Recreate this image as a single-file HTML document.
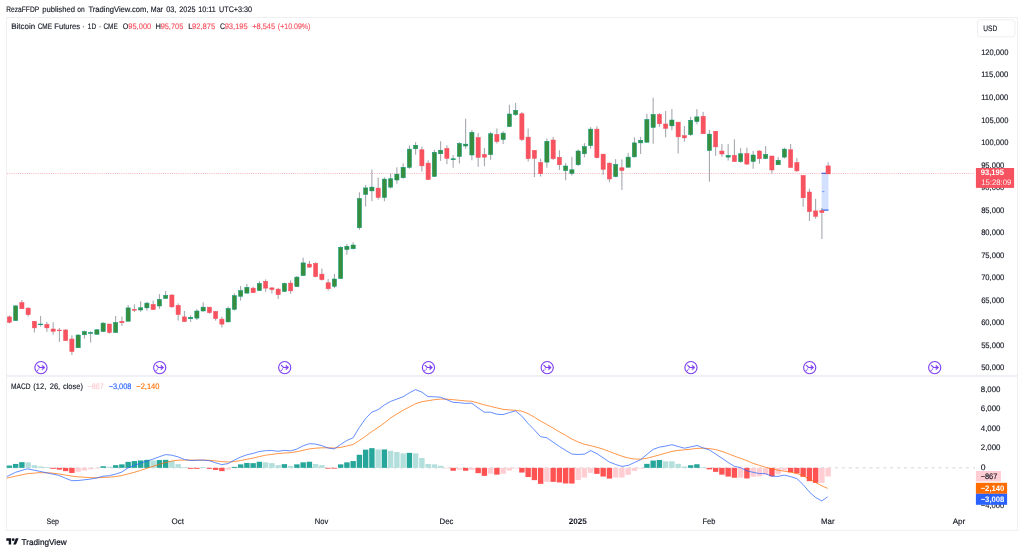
<!DOCTYPE html>
<html lang="en"><head><meta charset="utf-8"><title>Bitcoin CME Futures chart</title>
<style>
html,body{margin:0;padding:0;background:#fff;}
body{width:1024px;height:553px;overflow:hidden;position:relative;font-family:"Liberation Sans", Arial, sans-serif;}
svg{position:absolute;left:0;top:0;display:block}
text{font-family:"Liberation Sans", Arial, sans-serif;text-rendering:geometricPrecision}
</style></head><body>
<svg width="1024" height="553" viewBox="0 0 1024 553">
<rect x="0" y="0" width="1024" height="553" fill="#ffffff"/>

<rect x="6.5" y="17.5" width="1011" height="512.8" fill="none" stroke="#efeff2" stroke-width="1"/>
<rect x="7" y="374.9" width="1010" height="2" fill="#eef0f5"/>
<rect x="977.5" y="19.8" width="37.4" height="17" rx="2.5" fill="#fff" stroke="#eeeef2" stroke-width="1"/>
<rect x="821.6" y="173.1" width="6.9" height="37.1" fill="#2962ff" fill-opacity="0.2"/>
<line x1="821.6" y1="173.3" x2="828.5" y2="173.3" stroke="#2962ff" stroke-width="1.2"/>
<line x1="821.6" y1="210.1" x2="828.5" y2="210.1" stroke="#2962ff" stroke-width="1.2"/>
<line x1="822" y1="191.6" x2="824.4" y2="191.6" stroke="#2962ff" stroke-width="0.7" stroke-opacity="0.8"/>
<line x1="7" y1="173.5" x2="975" y2="173.5" stroke="#f7525f" stroke-width="0.8" stroke-dasharray="0.9 1.3" stroke-opacity="0.6"/>
<g id="candles">
<line x1="9.40" y1="315.38" x2="9.40" y2="323.50" stroke="#787b86" stroke-width="0.9" stroke-opacity="0.8"/>
<rect x="7.30" y="316.88" width="4.2" height="5.38" fill="#f7525f" stroke="#f7525f" stroke-width="0.5"/>
<line x1="15.65" y1="305.25" x2="15.65" y2="320.62" stroke="#787b86" stroke-width="0.9" stroke-opacity="0.8"/>
<rect x="13.55" y="305.88" width="4.2" height="14.75" fill="#388e3c" stroke="#089981" stroke-width="0.5"/>
<line x1="21.90" y1="300.00" x2="21.90" y2="308.75" stroke="#787b86" stroke-width="0.9" stroke-opacity="0.8"/>
<rect x="19.80" y="302.50" width="4.2" height="6.25" fill="#f7525f" stroke="#f7525f" stroke-width="0.5"/>
<line x1="28.15" y1="307.25" x2="28.15" y2="316.50" stroke="#787b86" stroke-width="0.9" stroke-opacity="0.8"/>
<rect x="26.05" y="308.12" width="4.2" height="6.62" fill="#f7525f" stroke="#f7525f" stroke-width="0.5"/>
<line x1="34.40" y1="321.25" x2="34.40" y2="332.50" stroke="#787b86" stroke-width="0.9" stroke-opacity="0.8"/>
<rect x="32.30" y="321.25" width="4.2" height="6.62" fill="#f7525f" stroke="#f7525f" stroke-width="0.5"/>
<line x1="40.65" y1="316.00" x2="40.65" y2="326.62" stroke="#787b86" stroke-width="0.9" stroke-opacity="0.8"/>
<rect x="38.55" y="324.00" width="4.2" height="0.75" fill="#388e3c" stroke="#089981" stroke-width="0.5"/>
<line x1="46.90" y1="321.88" x2="46.90" y2="331.88" stroke="#787b86" stroke-width="0.9" stroke-opacity="0.8"/>
<rect x="44.80" y="324.38" width="4.2" height="3.50" fill="#f7525f" stroke="#f7525f" stroke-width="0.5"/>
<line x1="53.15" y1="322.25" x2="53.15" y2="334.75" stroke="#787b86" stroke-width="0.9" stroke-opacity="0.8"/>
<rect x="51.05" y="329.00" width="4.2" height="2.25" fill="#f7525f" stroke="#f7525f" stroke-width="0.5"/>
<line x1="59.40" y1="328.12" x2="59.40" y2="341.88" stroke="#787b86" stroke-width="0.9" stroke-opacity="0.8"/>
<rect x="57.30" y="330.00" width="4.2" height="0.75" fill="#f7525f" stroke="#f7525f" stroke-width="0.5"/>
<line x1="65.65" y1="329.00" x2="65.65" y2="340.62" stroke="#787b86" stroke-width="0.9" stroke-opacity="0.8"/>
<rect x="63.55" y="330.00" width="4.2" height="10.62" fill="#f7525f" stroke="#f7525f" stroke-width="0.5"/>
<line x1="71.90" y1="335.25" x2="71.90" y2="355.00" stroke="#787b86" stroke-width="0.9" stroke-opacity="0.8"/>
<rect x="69.80" y="339.00" width="4.2" height="12.62" fill="#f7525f" stroke="#f7525f" stroke-width="0.5"/>
<line x1="78.15" y1="334.38" x2="78.15" y2="347.75" stroke="#787b86" stroke-width="0.9" stroke-opacity="0.8"/>
<rect x="76.05" y="335.00" width="4.2" height="12.75" fill="#388e3c" stroke="#089981" stroke-width="0.5"/>
<line x1="84.40" y1="330.62" x2="84.40" y2="338.50" stroke="#787b86" stroke-width="0.9" stroke-opacity="0.8"/>
<rect x="82.30" y="331.50" width="4.2" height="3.25" fill="#388e3c" stroke="#089981" stroke-width="0.5"/>
<line x1="90.65" y1="331.25" x2="90.65" y2="342.50" stroke="#787b86" stroke-width="0.9" stroke-opacity="0.8"/>
<rect x="88.55" y="332.50" width="4.2" height="1.00" fill="#388e3c" stroke="#089981" stroke-width="0.5"/>
<line x1="96.90" y1="329.00" x2="96.90" y2="334.38" stroke="#787b86" stroke-width="0.9" stroke-opacity="0.8"/>
<rect x="94.80" y="329.75" width="4.2" height="4.62" fill="#388e3c" stroke="#089981" stroke-width="0.5"/>
<line x1="103.15" y1="322.12" x2="103.15" y2="331.62" stroke="#787b86" stroke-width="0.9" stroke-opacity="0.8"/>
<rect x="101.05" y="323.12" width="4.2" height="8.50" fill="#388e3c" stroke="#089981" stroke-width="0.5"/>
<line x1="109.40" y1="324.00" x2="109.40" y2="333.75" stroke="#787b86" stroke-width="0.9" stroke-opacity="0.8"/>
<rect x="107.30" y="324.00" width="4.2" height="8.50" fill="#f7525f" stroke="#f7525f" stroke-width="0.5"/>
<line x1="115.65" y1="316.00" x2="115.65" y2="332.50" stroke="#787b86" stroke-width="0.9" stroke-opacity="0.8"/>
<rect x="113.55" y="322.50" width="4.2" height="10.00" fill="#388e3c" stroke="#089981" stroke-width="0.5"/>
<line x1="121.90" y1="316.62" x2="121.90" y2="326.00" stroke="#787b86" stroke-width="0.9" stroke-opacity="0.8"/>
<rect x="119.80" y="321.25" width="4.2" height="1.50" fill="#f7525f" stroke="#f7525f" stroke-width="0.5"/>
<line x1="128.15" y1="305.00" x2="128.15" y2="321.25" stroke="#787b86" stroke-width="0.9" stroke-opacity="0.8"/>
<rect x="126.05" y="307.88" width="4.2" height="13.38" fill="#388e3c" stroke="#089981" stroke-width="0.5"/>
<line x1="134.40" y1="304.38" x2="134.40" y2="311.88" stroke="#787b86" stroke-width="0.9" stroke-opacity="0.8"/>
<rect x="132.30" y="309.25" width="4.2" height="1.00" fill="#f7525f" stroke="#f7525f" stroke-width="0.5"/>
<line x1="140.65" y1="301.25" x2="140.65" y2="311.88" stroke="#787b86" stroke-width="0.9" stroke-opacity="0.8"/>
<rect x="138.55" y="307.75" width="4.2" height="2.25" fill="#388e3c" stroke="#089981" stroke-width="0.5"/>
<line x1="146.90" y1="301.88" x2="146.90" y2="310.62" stroke="#787b86" stroke-width="0.9" stroke-opacity="0.8"/>
<rect x="144.80" y="303.12" width="4.2" height="4.75" fill="#388e3c" stroke="#089981" stroke-width="0.5"/>
<line x1="153.15" y1="300.62" x2="153.15" y2="309.62" stroke="#787b86" stroke-width="0.9" stroke-opacity="0.8"/>
<rect x="151.05" y="304.38" width="4.2" height="5.25" fill="#f7525f" stroke="#f7525f" stroke-width="0.5"/>
<line x1="159.40" y1="294.12" x2="159.40" y2="308.75" stroke="#787b86" stroke-width="0.9" stroke-opacity="0.8"/>
<rect x="157.30" y="299.38" width="4.2" height="6.62" fill="#388e3c" stroke="#089981" stroke-width="0.5"/>
<line x1="165.65" y1="291.00" x2="165.65" y2="298.50" stroke="#787b86" stroke-width="0.9" stroke-opacity="0.8"/>
<rect x="163.55" y="295.38" width="4.2" height="3.12" fill="#388e3c" stroke="#089981" stroke-width="0.5"/>
<line x1="171.90" y1="294.38" x2="171.90" y2="307.88" stroke="#787b86" stroke-width="0.9" stroke-opacity="0.8"/>
<rect x="169.80" y="295.00" width="4.2" height="11.88" fill="#f7525f" stroke="#f7525f" stroke-width="0.5"/>
<line x1="178.15" y1="303.38" x2="178.15" y2="320.62" stroke="#787b86" stroke-width="0.9" stroke-opacity="0.8"/>
<rect x="176.05" y="305.25" width="4.2" height="9.38" fill="#f7525f" stroke="#f7525f" stroke-width="0.5"/>
<line x1="184.40" y1="311.00" x2="184.40" y2="321.62" stroke="#787b86" stroke-width="0.9" stroke-opacity="0.8"/>
<rect x="182.30" y="316.88" width="4.2" height="4.75" fill="#f7525f" stroke="#f7525f" stroke-width="0.5"/>
<line x1="190.65" y1="315.25" x2="190.65" y2="321.88" stroke="#787b86" stroke-width="0.9" stroke-opacity="0.8"/>
<rect x="188.55" y="317.25" width="4.2" height="1.50" fill="#388e3c" stroke="#089981" stroke-width="0.5"/>
<line x1="196.90" y1="309.12" x2="196.90" y2="320.00" stroke="#787b86" stroke-width="0.9" stroke-opacity="0.8"/>
<rect x="194.80" y="311.00" width="4.2" height="7.12" fill="#388e3c" stroke="#089981" stroke-width="0.5"/>
<line x1="203.15" y1="302.25" x2="203.15" y2="311.50" stroke="#787b86" stroke-width="0.9" stroke-opacity="0.8"/>
<rect x="201.05" y="307.12" width="4.2" height="3.88" fill="#388e3c" stroke="#089981" stroke-width="0.5"/>
<line x1="209.40" y1="307.12" x2="209.40" y2="313.75" stroke="#787b86" stroke-width="0.9" stroke-opacity="0.8"/>
<rect x="207.30" y="307.12" width="4.2" height="5.62" fill="#f7525f" stroke="#f7525f" stroke-width="0.5"/>
<line x1="215.65" y1="311.00" x2="215.65" y2="320.62" stroke="#787b86" stroke-width="0.9" stroke-opacity="0.8"/>
<rect x="213.55" y="311.50" width="4.2" height="7.00" fill="#f7525f" stroke="#f7525f" stroke-width="0.5"/>
<line x1="221.90" y1="316.88" x2="221.90" y2="327.50" stroke="#787b86" stroke-width="0.9" stroke-opacity="0.8"/>
<rect x="219.80" y="319.12" width="4.2" height="5.00" fill="#f7525f" stroke="#f7525f" stroke-width="0.5"/>
<line x1="228.15" y1="306.50" x2="228.15" y2="322.50" stroke="#787b86" stroke-width="0.9" stroke-opacity="0.8"/>
<rect x="226.05" y="308.38" width="4.2" height="13.50" fill="#388e3c" stroke="#089981" stroke-width="0.5"/>
<line x1="234.40" y1="293.38" x2="234.40" y2="310.38" stroke="#787b86" stroke-width="0.9" stroke-opacity="0.8"/>
<rect x="232.30" y="295.62" width="4.2" height="13.75" fill="#388e3c" stroke="#089981" stroke-width="0.5"/>
<line x1="240.65" y1="286.00" x2="240.65" y2="300.62" stroke="#787b86" stroke-width="0.9" stroke-opacity="0.8"/>
<rect x="238.55" y="290.62" width="4.2" height="5.62" fill="#388e3c" stroke="#089981" stroke-width="0.5"/>
<line x1="246.90" y1="284.00" x2="246.90" y2="293.50" stroke="#787b86" stroke-width="0.9" stroke-opacity="0.8"/>
<rect x="244.80" y="287.25" width="4.2" height="5.88" fill="#388e3c" stroke="#089981" stroke-width="0.5"/>
<line x1="253.15" y1="286.62" x2="253.15" y2="292.75" stroke="#787b86" stroke-width="0.9" stroke-opacity="0.8"/>
<rect x="251.05" y="288.12" width="4.2" height="4.62" fill="#f7525f" stroke="#f7525f" stroke-width="0.5"/>
<line x1="259.40" y1="281.25" x2="259.40" y2="290.62" stroke="#787b86" stroke-width="0.9" stroke-opacity="0.8"/>
<rect x="257.30" y="283.38" width="4.2" height="7.25" fill="#388e3c" stroke="#089981" stroke-width="0.5"/>
<line x1="265.65" y1="279.38" x2="265.65" y2="291.88" stroke="#787b86" stroke-width="0.9" stroke-opacity="0.8"/>
<rect x="263.55" y="281.25" width="4.2" height="6.88" fill="#f7525f" stroke="#f7525f" stroke-width="0.5"/>
<line x1="271.90" y1="287.25" x2="271.90" y2="293.38" stroke="#787b86" stroke-width="0.9" stroke-opacity="0.8"/>
<rect x="269.80" y="287.88" width="4.2" height="1.75" fill="#f7525f" stroke="#f7525f" stroke-width="0.5"/>
<line x1="278.15" y1="287.88" x2="278.15" y2="299.00" stroke="#787b86" stroke-width="0.9" stroke-opacity="0.8"/>
<rect x="276.05" y="289.12" width="4.2" height="5.62" fill="#f7525f" stroke="#f7525f" stroke-width="0.5"/>
<line x1="284.40" y1="282.50" x2="284.40" y2="291.88" stroke="#787b86" stroke-width="0.9" stroke-opacity="0.8"/>
<rect x="282.30" y="283.38" width="4.2" height="8.12" fill="#388e3c" stroke="#089981" stroke-width="0.5"/>
<line x1="290.65" y1="280.25" x2="290.65" y2="293.75" stroke="#787b86" stroke-width="0.9" stroke-opacity="0.8"/>
<rect x="288.55" y="283.12" width="4.2" height="7.75" fill="#f7525f" stroke="#f7525f" stroke-width="0.5"/>
<line x1="296.90" y1="276.00" x2="296.90" y2="286.62" stroke="#787b86" stroke-width="0.9" stroke-opacity="0.8"/>
<rect x="294.80" y="277.12" width="4.2" height="9.50" fill="#388e3c" stroke="#089981" stroke-width="0.5"/>
<line x1="303.15" y1="257.75" x2="303.15" y2="275.62" stroke="#787b86" stroke-width="0.9" stroke-opacity="0.8"/>
<rect x="301.05" y="262.88" width="4.2" height="12.75" fill="#388e3c" stroke="#089981" stroke-width="0.5"/>
<line x1="309.40" y1="261.00" x2="309.40" y2="267.88" stroke="#787b86" stroke-width="0.9" stroke-opacity="0.8"/>
<rect x="307.30" y="264.12" width="4.2" height="3.00" fill="#f7525f" stroke="#f7525f" stroke-width="0.5"/>
<line x1="315.65" y1="262.25" x2="315.65" y2="277.25" stroke="#787b86" stroke-width="0.9" stroke-opacity="0.8"/>
<rect x="313.55" y="263.38" width="4.2" height="13.25" fill="#f7525f" stroke="#f7525f" stroke-width="0.5"/>
<line x1="321.90" y1="268.50" x2="321.90" y2="280.62" stroke="#787b86" stroke-width="0.9" stroke-opacity="0.8"/>
<rect x="319.80" y="274.12" width="4.2" height="5.62" fill="#f7525f" stroke="#f7525f" stroke-width="0.5"/>
<line x1="328.15" y1="279.00" x2="328.15" y2="290.62" stroke="#787b86" stroke-width="0.9" stroke-opacity="0.8"/>
<rect x="326.05" y="282.75" width="4.2" height="6.00" fill="#f7525f" stroke="#f7525f" stroke-width="0.5"/>
<line x1="334.40" y1="274.00" x2="334.40" y2="288.12" stroke="#787b86" stroke-width="0.9" stroke-opacity="0.8"/>
<rect x="332.30" y="279.00" width="4.2" height="7.25" fill="#388e3c" stroke="#089981" stroke-width="0.5"/>
<line x1="340.65" y1="246.25" x2="340.65" y2="278.75" stroke="#787b86" stroke-width="0.9" stroke-opacity="0.8"/>
<rect x="338.55" y="247.25" width="4.2" height="31.25" fill="#388e3c" stroke="#089981" stroke-width="0.5"/>
<line x1="346.90" y1="244.12" x2="346.90" y2="254.75" stroke="#787b86" stroke-width="0.9" stroke-opacity="0.8"/>
<rect x="344.80" y="246.25" width="4.2" height="3.38" fill="#388e3c" stroke="#089981" stroke-width="0.5"/>
<line x1="353.15" y1="242.25" x2="353.15" y2="249.38" stroke="#787b86" stroke-width="0.9" stroke-opacity="0.8"/>
<rect x="351.05" y="245.00" width="4.2" height="3.75" fill="#388e3c" stroke="#089981" stroke-width="0.5"/>
<line x1="359.40" y1="192.25" x2="359.40" y2="229.75" stroke="#787b86" stroke-width="0.9" stroke-opacity="0.8"/>
<rect x="357.30" y="198.50" width="4.2" height="29.25" fill="#388e3c" stroke="#089981" stroke-width="0.5"/>
<line x1="365.65" y1="185.00" x2="365.65" y2="206.50" stroke="#787b86" stroke-width="0.9" stroke-opacity="0.8"/>
<rect x="363.55" y="187.90" width="4.2" height="6.50" fill="#388e3c" stroke="#089981" stroke-width="0.5"/>
<line x1="371.90" y1="169.60" x2="371.90" y2="201.25" stroke="#787b86" stroke-width="0.9" stroke-opacity="0.8"/>
<rect x="369.80" y="187.10" width="4.2" height="3.80" fill="#388e3c" stroke="#089981" stroke-width="0.5"/>
<line x1="378.15" y1="177.50" x2="378.15" y2="199.60" stroke="#787b86" stroke-width="0.9" stroke-opacity="0.8"/>
<rect x="376.05" y="188.10" width="4.2" height="9.40" fill="#f7525f" stroke="#f7525f" stroke-width="0.5"/>
<line x1="384.40" y1="177.50" x2="384.40" y2="201.25" stroke="#787b86" stroke-width="0.9" stroke-opacity="0.8"/>
<rect x="382.30" y="179.10" width="4.2" height="18.40" fill="#388e3c" stroke="#089981" stroke-width="0.5"/>
<line x1="390.65" y1="173.38" x2="390.65" y2="188.50" stroke="#787b86" stroke-width="0.9" stroke-opacity="0.8"/>
<rect x="388.55" y="178.75" width="4.2" height="8.38" fill="#388e3c" stroke="#089981" stroke-width="0.5"/>
<line x1="396.90" y1="167.25" x2="396.90" y2="183.75" stroke="#787b86" stroke-width="0.9" stroke-opacity="0.8"/>
<rect x="394.80" y="174.12" width="4.2" height="5.88" fill="#388e3c" stroke="#089981" stroke-width="0.5"/>
<line x1="403.15" y1="163.38" x2="403.15" y2="178.75" stroke="#787b86" stroke-width="0.9" stroke-opacity="0.8"/>
<rect x="401.05" y="167.25" width="4.2" height="10.50" fill="#388e3c" stroke="#089981" stroke-width="0.5"/>
<line x1="409.40" y1="145.38" x2="409.40" y2="168.75" stroke="#787b86" stroke-width="0.9" stroke-opacity="0.8"/>
<rect x="407.30" y="149.12" width="4.2" height="18.38" fill="#388e3c" stroke="#089981" stroke-width="0.5"/>
<line x1="415.65" y1="142.12" x2="415.65" y2="154.62" stroke="#787b86" stroke-width="0.9" stroke-opacity="0.8"/>
<rect x="413.55" y="145.25" width="4.2" height="3.50" fill="#388e3c" stroke="#089981" stroke-width="0.5"/>
<line x1="421.90" y1="146.62" x2="421.90" y2="171.62" stroke="#787b86" stroke-width="0.9" stroke-opacity="0.8"/>
<rect x="419.80" y="149.75" width="4.2" height="16.12" fill="#f7525f" stroke="#f7525f" stroke-width="0.5"/>
<line x1="428.15" y1="160.25" x2="428.15" y2="179.62" stroke="#787b86" stroke-width="0.9" stroke-opacity="0.8"/>
<rect x="426.05" y="163.12" width="4.2" height="16.50" fill="#f7525f" stroke="#f7525f" stroke-width="0.5"/>
<line x1="434.40" y1="149.75" x2="434.40" y2="176.88" stroke="#787b86" stroke-width="0.9" stroke-opacity="0.8"/>
<rect x="432.30" y="152.25" width="4.2" height="24.25" fill="#388e3c" stroke="#089981" stroke-width="0.5"/>
<line x1="440.65" y1="141.25" x2="440.65" y2="160.88" stroke="#787b86" stroke-width="0.9" stroke-opacity="0.8"/>
<rect x="438.55" y="150.25" width="4.2" height="3.50" fill="#388e3c" stroke="#089981" stroke-width="0.5"/>
<line x1="446.90" y1="145.38" x2="446.90" y2="164.12" stroke="#787b86" stroke-width="0.9" stroke-opacity="0.8"/>
<rect x="444.80" y="148.38" width="4.2" height="10.00" fill="#f7525f" stroke="#f7525f" stroke-width="0.5"/>
<line x1="453.15" y1="155.00" x2="453.15" y2="167.75" stroke="#787b86" stroke-width="0.9" stroke-opacity="0.8"/>
<rect x="451.05" y="158.75" width="4.2" height="1.00" fill="#388e3c" stroke="#089981" stroke-width="0.5"/>
<line x1="459.40" y1="142.12" x2="459.40" y2="163.50" stroke="#787b86" stroke-width="0.9" stroke-opacity="0.8"/>
<rect x="457.30" y="143.38" width="4.2" height="13.12" fill="#388e3c" stroke="#089981" stroke-width="0.5"/>
<line x1="465.65" y1="118.75" x2="465.65" y2="148.75" stroke="#787b86" stroke-width="0.9" stroke-opacity="0.8"/>
<rect x="463.55" y="144.12" width="4.2" height="1.88" fill="#388e3c" stroke="#089981" stroke-width="0.5"/>
<line x1="471.90" y1="130.00" x2="471.90" y2="160.25" stroke="#787b86" stroke-width="0.9" stroke-opacity="0.8"/>
<rect x="469.80" y="132.25" width="4.2" height="22.75" fill="#388e3c" stroke="#089981" stroke-width="0.5"/>
<line x1="478.15" y1="133.12" x2="478.15" y2="166.88" stroke="#787b86" stroke-width="0.9" stroke-opacity="0.8"/>
<rect x="476.05" y="137.50" width="4.2" height="20.00" fill="#f7525f" stroke="#f7525f" stroke-width="0.5"/>
<line x1="484.40" y1="147.88" x2="484.40" y2="166.25" stroke="#787b86" stroke-width="0.9" stroke-opacity="0.8"/>
<rect x="482.30" y="154.38" width="4.2" height="2.75" fill="#f7525f" stroke="#f7525f" stroke-width="0.5"/>
<line x1="490.65" y1="131.88" x2="490.65" y2="159.75" stroke="#787b86" stroke-width="0.9" stroke-opacity="0.8"/>
<rect x="488.55" y="133.75" width="4.2" height="20.88" fill="#388e3c" stroke="#089981" stroke-width="0.5"/>
<line x1="496.90" y1="128.50" x2="496.90" y2="143.50" stroke="#787b86" stroke-width="0.9" stroke-opacity="0.8"/>
<rect x="494.80" y="134.38" width="4.2" height="7.25" fill="#f7525f" stroke="#f7525f" stroke-width="0.5"/>
<line x1="503.15" y1="131.25" x2="503.15" y2="144.12" stroke="#787b86" stroke-width="0.9" stroke-opacity="0.8"/>
<rect x="501.05" y="133.12" width="4.2" height="6.50" fill="#388e3c" stroke="#089981" stroke-width="0.5"/>
<line x1="509.40" y1="104.75" x2="509.40" y2="126.62" stroke="#787b86" stroke-width="0.9" stroke-opacity="0.8"/>
<rect x="507.30" y="114.00" width="4.2" height="12.62" fill="#388e3c" stroke="#089981" stroke-width="0.5"/>
<line x1="515.65" y1="102.88" x2="515.65" y2="115.88" stroke="#787b86" stroke-width="0.9" stroke-opacity="0.8"/>
<rect x="513.55" y="110.38" width="4.2" height="4.25" fill="#388e3c" stroke="#089981" stroke-width="0.5"/>
<line x1="521.90" y1="112.12" x2="521.90" y2="141.00" stroke="#787b86" stroke-width="0.9" stroke-opacity="0.8"/>
<rect x="519.80" y="113.75" width="4.2" height="25.88" fill="#f7525f" stroke="#f7525f" stroke-width="0.5"/>
<line x1="528.15" y1="128.50" x2="528.15" y2="161.50" stroke="#787b86" stroke-width="0.9" stroke-opacity="0.8"/>
<rect x="526.05" y="137.12" width="4.2" height="21.62" fill="#f7525f" stroke="#f7525f" stroke-width="0.5"/>
<line x1="534.40" y1="150.25" x2="534.40" y2="177.12" stroke="#787b86" stroke-width="0.9" stroke-opacity="0.8"/>
<rect x="532.30" y="150.25" width="4.2" height="8.12" fill="#f7525f" stroke="#f7525f" stroke-width="0.5"/>
<line x1="540.65" y1="158.75" x2="540.65" y2="176.50" stroke="#787b86" stroke-width="0.9" stroke-opacity="0.8"/>
<rect x="538.55" y="162.50" width="4.2" height="11.25" fill="#f7525f" stroke="#f7525f" stroke-width="0.5"/>
<line x1="546.90" y1="138.50" x2="546.90" y2="167.75" stroke="#787b86" stroke-width="0.9" stroke-opacity="0.8"/>
<rect x="544.80" y="141.25" width="4.2" height="20.88" fill="#388e3c" stroke="#089981" stroke-width="0.5"/>
<line x1="553.15" y1="136.88" x2="553.15" y2="160.00" stroke="#787b86" stroke-width="0.9" stroke-opacity="0.8"/>
<rect x="551.05" y="140.00" width="4.2" height="18.75" fill="#f7525f" stroke="#f7525f" stroke-width="0.5"/>
<line x1="559.40" y1="150.25" x2="559.40" y2="170.00" stroke="#787b86" stroke-width="0.9" stroke-opacity="0.8"/>
<rect x="557.30" y="157.25" width="4.2" height="7.50" fill="#f7525f" stroke="#f7525f" stroke-width="0.5"/>
<line x1="565.65" y1="163.12" x2="565.65" y2="180.25" stroke="#787b86" stroke-width="0.9" stroke-opacity="0.8"/>
<rect x="563.55" y="166.00" width="4.2" height="4.62" fill="#388e3c" stroke="#089981" stroke-width="0.5"/>
<line x1="571.90" y1="156.88" x2="571.90" y2="175.62" stroke="#787b86" stroke-width="0.9" stroke-opacity="0.8"/>
<rect x="569.80" y="169.75" width="4.2" height="3.75" fill="#388e3c" stroke="#089981" stroke-width="0.5"/>
<line x1="578.15" y1="149.38" x2="578.15" y2="166.00" stroke="#787b86" stroke-width="0.9" stroke-opacity="0.8"/>
<rect x="576.05" y="151.00" width="4.2" height="13.75" fill="#388e3c" stroke="#089981" stroke-width="0.5"/>
<line x1="584.40" y1="143.12" x2="584.40" y2="157.25" stroke="#787b86" stroke-width="0.9" stroke-opacity="0.8"/>
<rect x="582.30" y="146.50" width="4.2" height="7.25" fill="#388e3c" stroke="#089981" stroke-width="0.5"/>
<line x1="590.65" y1="127.12" x2="590.65" y2="148.75" stroke="#787b86" stroke-width="0.9" stroke-opacity="0.8"/>
<rect x="588.55" y="129.12" width="4.2" height="16.50" fill="#388e3c" stroke="#089981" stroke-width="0.5"/>
<line x1="596.90" y1="126.25" x2="596.90" y2="158.50" stroke="#787b86" stroke-width="0.9" stroke-opacity="0.8"/>
<rect x="594.80" y="129.12" width="4.2" height="28.62" fill="#f7525f" stroke="#f7525f" stroke-width="0.5"/>
<line x1="603.15" y1="154.12" x2="603.15" y2="175.00" stroke="#787b86" stroke-width="0.9" stroke-opacity="0.8"/>
<rect x="601.05" y="154.12" width="4.2" height="15.25" fill="#f7525f" stroke="#f7525f" stroke-width="0.5"/>
<line x1="609.40" y1="162.50" x2="609.40" y2="182.25" stroke="#787b86" stroke-width="0.9" stroke-opacity="0.8"/>
<rect x="607.30" y="163.12" width="4.2" height="15.88" fill="#f7525f" stroke="#f7525f" stroke-width="0.5"/>
<line x1="615.65" y1="159.12" x2="615.65" y2="177.25" stroke="#787b86" stroke-width="0.9" stroke-opacity="0.8"/>
<rect x="613.55" y="164.38" width="4.2" height="12.25" fill="#388e3c" stroke="#089981" stroke-width="0.5"/>
<line x1="621.90" y1="159.38" x2="621.90" y2="190.00" stroke="#787b86" stroke-width="0.9" stroke-opacity="0.8"/>
<rect x="619.80" y="167.75" width="4.2" height="2.88" fill="#f7525f" stroke="#f7525f" stroke-width="0.5"/>
<line x1="628.15" y1="153.12" x2="628.15" y2="167.25" stroke="#787b86" stroke-width="0.9" stroke-opacity="0.8"/>
<rect x="626.05" y="157.12" width="4.2" height="10.12" fill="#388e3c" stroke="#089981" stroke-width="0.5"/>
<line x1="634.40" y1="137.25" x2="634.40" y2="157.50" stroke="#787b86" stroke-width="0.9" stroke-opacity="0.8"/>
<rect x="632.30" y="142.88" width="4.2" height="14.00" fill="#388e3c" stroke="#089981" stroke-width="0.5"/>
<line x1="640.65" y1="136.88" x2="640.65" y2="154.00" stroke="#787b86" stroke-width="0.9" stroke-opacity="0.8"/>
<rect x="638.55" y="140.25" width="4.2" height="2.62" fill="#388e3c" stroke="#089981" stroke-width="0.5"/>
<line x1="646.90" y1="113.75" x2="646.90" y2="142.25" stroke="#787b86" stroke-width="0.9" stroke-opacity="0.8"/>
<rect x="644.80" y="119.38" width="4.2" height="22.88" fill="#388e3c" stroke="#089981" stroke-width="0.5"/>
<line x1="653.15" y1="97.75" x2="653.15" y2="143.75" stroke="#787b86" stroke-width="0.9" stroke-opacity="0.8"/>
<rect x="651.05" y="114.38" width="4.2" height="13.12" fill="#388e3c" stroke="#089981" stroke-width="0.5"/>
<line x1="659.40" y1="113.12" x2="659.40" y2="126.88" stroke="#787b86" stroke-width="0.9" stroke-opacity="0.8"/>
<rect x="657.30" y="114.38" width="4.2" height="9.38" fill="#f7525f" stroke="#f7525f" stroke-width="0.5"/>
<line x1="665.65" y1="111.00" x2="665.65" y2="137.25" stroke="#787b86" stroke-width="0.9" stroke-opacity="0.8"/>
<rect x="663.55" y="124.00" width="4.2" height="4.38" fill="#f7525f" stroke="#f7525f" stroke-width="0.5"/>
<line x1="671.90" y1="109.12" x2="671.90" y2="130.25" stroke="#787b86" stroke-width="0.9" stroke-opacity="0.8"/>
<rect x="669.80" y="120.00" width="4.2" height="5.88" fill="#388e3c" stroke="#089981" stroke-width="0.5"/>
<line x1="678.15" y1="122.12" x2="678.15" y2="153.50" stroke="#787b86" stroke-width="0.9" stroke-opacity="0.8"/>
<rect x="676.05" y="122.12" width="4.2" height="14.75" fill="#f7525f" stroke="#f7525f" stroke-width="0.5"/>
<line x1="684.40" y1="126.00" x2="684.40" y2="141.62" stroke="#787b86" stroke-width="0.9" stroke-opacity="0.8"/>
<rect x="682.30" y="135.62" width="4.2" height="2.25" fill="#f7525f" stroke="#f7525f" stroke-width="0.5"/>
<line x1="690.65" y1="116.88" x2="690.65" y2="136.00" stroke="#787b86" stroke-width="0.9" stroke-opacity="0.8"/>
<rect x="688.55" y="120.25" width="4.2" height="14.38" fill="#388e3c" stroke="#089981" stroke-width="0.5"/>
<line x1="696.90" y1="109.12" x2="696.90" y2="124.38" stroke="#787b86" stroke-width="0.9" stroke-opacity="0.8"/>
<rect x="694.80" y="116.88" width="4.2" height="4.75" fill="#388e3c" stroke="#089981" stroke-width="0.5"/>
<line x1="703.15" y1="111.88" x2="703.15" y2="133.75" stroke="#787b86" stroke-width="0.9" stroke-opacity="0.8"/>
<rect x="701.05" y="116.25" width="4.2" height="17.50" fill="#f7525f" stroke="#f7525f" stroke-width="0.5"/>
<line x1="709.40" y1="130.00" x2="709.40" y2="181.62" stroke="#787b86" stroke-width="0.9" stroke-opacity="0.8"/>
<rect x="707.30" y="134.12" width="4.2" height="16.50" fill="#388e3c" stroke="#089981" stroke-width="0.5"/>
<line x1="715.65" y1="131.25" x2="715.65" y2="155.88" stroke="#787b86" stroke-width="0.9" stroke-opacity="0.8"/>
<rect x="713.55" y="131.25" width="4.2" height="15.62" fill="#f7525f" stroke="#f7525f" stroke-width="0.5"/>
<line x1="721.90" y1="144.00" x2="721.90" y2="156.88" stroke="#787b86" stroke-width="0.9" stroke-opacity="0.8"/>
<rect x="719.80" y="151.00" width="4.2" height="3.00" fill="#f7525f" stroke="#f7525f" stroke-width="0.5"/>
<line x1="728.15" y1="144.00" x2="728.15" y2="160.62" stroke="#787b86" stroke-width="0.9" stroke-opacity="0.8"/>
<rect x="726.05" y="155.38" width="4.2" height="1.75" fill="#388e3c" stroke="#089981" stroke-width="0.5"/>
<line x1="734.40" y1="139.38" x2="734.40" y2="161.62" stroke="#787b86" stroke-width="0.9" stroke-opacity="0.8"/>
<rect x="732.30" y="155.25" width="4.2" height="6.38" fill="#f7525f" stroke="#f7525f" stroke-width="0.5"/>
<line x1="740.65" y1="148.12" x2="740.65" y2="162.88" stroke="#787b86" stroke-width="0.9" stroke-opacity="0.8"/>
<rect x="738.55" y="153.75" width="4.2" height="7.88" fill="#388e3c" stroke="#089981" stroke-width="0.5"/>
<line x1="746.90" y1="147.75" x2="746.90" y2="164.75" stroke="#787b86" stroke-width="0.9" stroke-opacity="0.8"/>
<rect x="744.80" y="153.50" width="4.2" height="10.62" fill="#f7525f" stroke="#f7525f" stroke-width="0.5"/>
<line x1="753.15" y1="151.00" x2="753.15" y2="168.75" stroke="#787b86" stroke-width="0.9" stroke-opacity="0.8"/>
<rect x="751.05" y="155.00" width="4.2" height="6.50" fill="#388e3c" stroke="#089981" stroke-width="0.5"/>
<line x1="759.40" y1="150.25" x2="759.40" y2="163.75" stroke="#787b86" stroke-width="0.9" stroke-opacity="0.8"/>
<rect x="757.30" y="151.00" width="4.2" height="7.75" fill="#f7525f" stroke="#f7525f" stroke-width="0.5"/>
<line x1="765.65" y1="146.00" x2="765.65" y2="159.12" stroke="#787b86" stroke-width="0.9" stroke-opacity="0.8"/>
<rect x="763.55" y="154.38" width="4.2" height="4.12" fill="#388e3c" stroke="#089981" stroke-width="0.5"/>
<line x1="771.90" y1="156.00" x2="771.90" y2="173.50" stroke="#787b86" stroke-width="0.9" stroke-opacity="0.8"/>
<rect x="769.80" y="156.00" width="4.2" height="14.00" fill="#f7525f" stroke="#f7525f" stroke-width="0.5"/>
<line x1="778.15" y1="156.88" x2="778.15" y2="164.75" stroke="#787b86" stroke-width="0.9" stroke-opacity="0.8"/>
<rect x="776.05" y="160.25" width="4.2" height="4.50" fill="#388e3c" stroke="#089981" stroke-width="0.5"/>
<line x1="784.40" y1="147.75" x2="784.40" y2="158.50" stroke="#787b86" stroke-width="0.9" stroke-opacity="0.8"/>
<rect x="782.30" y="149.12" width="4.2" height="8.00" fill="#388e3c" stroke="#089981" stroke-width="0.5"/>
<line x1="790.65" y1="144.00" x2="790.65" y2="167.50" stroke="#787b86" stroke-width="0.9" stroke-opacity="0.8"/>
<rect x="788.55" y="149.75" width="4.2" height="17.75" fill="#f7525f" stroke="#f7525f" stroke-width="0.5"/>
<line x1="796.90" y1="158.12" x2="796.90" y2="171.88" stroke="#787b86" stroke-width="0.9" stroke-opacity="0.8"/>
<rect x="794.80" y="162.50" width="4.2" height="8.38" fill="#f7525f" stroke="#f7525f" stroke-width="0.5"/>
<line x1="803.15" y1="175.38" x2="803.15" y2="206.88" stroke="#787b86" stroke-width="0.9" stroke-opacity="0.8"/>
<rect x="801.05" y="175.38" width="4.2" height="22.38" fill="#f7525f" stroke="#f7525f" stroke-width="0.5"/>
<line x1="809.40" y1="188.80" x2="809.40" y2="220.90" stroke="#787b86" stroke-width="0.9" stroke-opacity="0.8"/>
<rect x="807.30" y="192.00" width="4.2" height="19.70" fill="#f7525f" stroke="#f7525f" stroke-width="0.5"/>
<line x1="815.65" y1="198.90" x2="815.65" y2="218.70" stroke="#787b86" stroke-width="0.9" stroke-opacity="0.8"/>
<rect x="813.55" y="210.90" width="4.2" height="5.40" fill="#f7525f" stroke="#f7525f" stroke-width="0.5"/>
<line x1="821.90" y1="207.90" x2="821.90" y2="239.00" stroke="#787b86" stroke-width="0.9" stroke-opacity="0.8"/>
<rect x="819.80" y="210.60" width="4.2" height="2.00" fill="#f7525f" stroke="#f7525f" stroke-width="0.5"/>
<line x1="828.15" y1="162.30" x2="828.15" y2="173.90" stroke="#787b86" stroke-width="0.9" stroke-opacity="0.8"/>
<rect x="826.05" y="165.90" width="4.2" height="8.00" fill="#f7525f" stroke="#f7525f" stroke-width="0.5"/>
</g>
<g transform="translate(40.95,367.60)" fill="none" stroke="#7e3ff2" stroke-linecap="round" stroke-linejoin="round"><circle cx="0" cy="0" r="6.1" stroke-width="1.15"/><path d="M-3.3 -2.3 L-1.1 -0.1 L2.6 -0.1" stroke-width="1.15"/><path d="M1.6 -2.4 L4.1 -0.1 L1.6 2.2 Z" stroke-width="0.5" fill="#7e3ff2"/><path d="M-3.9 3.2 L-1.5 0.8" stroke-width="1.2" stroke-linecap="butt" stroke-dasharray="1.1 0.9"/></g>
<g transform="translate(159.70,367.60)" fill="none" stroke="#7e3ff2" stroke-linecap="round" stroke-linejoin="round"><circle cx="0" cy="0" r="6.1" stroke-width="1.15"/><path d="M-3.3 -2.3 L-1.1 -0.1 L2.6 -0.1" stroke-width="1.15"/><path d="M1.6 -2.4 L4.1 -0.1 L1.6 2.2 Z" stroke-width="0.5" fill="#7e3ff2"/><path d="M-3.9 3.2 L-1.5 0.8" stroke-width="1.2" stroke-linecap="butt" stroke-dasharray="1.1 0.9"/></g>
<g transform="translate(284.70,367.60)" fill="none" stroke="#7e3ff2" stroke-linecap="round" stroke-linejoin="round"><circle cx="0" cy="0" r="6.1" stroke-width="1.15"/><path d="M-3.3 -2.3 L-1.1 -0.1 L2.6 -0.1" stroke-width="1.15"/><path d="M1.6 -2.4 L4.1 -0.1 L1.6 2.2 Z" stroke-width="0.5" fill="#7e3ff2"/><path d="M-3.9 3.2 L-1.5 0.8" stroke-width="1.2" stroke-linecap="butt" stroke-dasharray="1.1 0.9"/></g>
<g transform="translate(428.45,367.60)" fill="none" stroke="#7e3ff2" stroke-linecap="round" stroke-linejoin="round"><circle cx="0" cy="0" r="6.1" stroke-width="1.15"/><path d="M-3.3 -2.3 L-1.1 -0.1 L2.6 -0.1" stroke-width="1.15"/><path d="M1.6 -2.4 L4.1 -0.1 L1.6 2.2 Z" stroke-width="0.5" fill="#7e3ff2"/><path d="M-3.9 3.2 L-1.5 0.8" stroke-width="1.2" stroke-linecap="butt" stroke-dasharray="1.1 0.9"/></g>
<g transform="translate(547.20,367.60)" fill="none" stroke="#7e3ff2" stroke-linecap="round" stroke-linejoin="round"><circle cx="0" cy="0" r="6.1" stroke-width="1.15"/><path d="M-3.3 -2.3 L-1.1 -0.1 L2.6 -0.1" stroke-width="1.15"/><path d="M1.6 -2.4 L4.1 -0.1 L1.6 2.2 Z" stroke-width="0.5" fill="#7e3ff2"/><path d="M-3.9 3.2 L-1.5 0.8" stroke-width="1.2" stroke-linecap="butt" stroke-dasharray="1.1 0.9"/></g>
<g transform="translate(690.95,367.60)" fill="none" stroke="#7e3ff2" stroke-linecap="round" stroke-linejoin="round"><circle cx="0" cy="0" r="6.1" stroke-width="1.15"/><path d="M-3.3 -2.3 L-1.1 -0.1 L2.6 -0.1" stroke-width="1.15"/><path d="M1.6 -2.4 L4.1 -0.1 L1.6 2.2 Z" stroke-width="0.5" fill="#7e3ff2"/><path d="M-3.9 3.2 L-1.5 0.8" stroke-width="1.2" stroke-linecap="butt" stroke-dasharray="1.1 0.9"/></g>
<g transform="translate(809.70,367.60)" fill="none" stroke="#7e3ff2" stroke-linecap="round" stroke-linejoin="round"><circle cx="0" cy="0" r="6.1" stroke-width="1.15"/><path d="M-3.3 -2.3 L-1.1 -0.1 L2.6 -0.1" stroke-width="1.15"/><path d="M1.6 -2.4 L4.1 -0.1 L1.6 2.2 Z" stroke-width="0.5" fill="#7e3ff2"/><path d="M-3.9 3.2 L-1.5 0.8" stroke-width="1.2" stroke-linecap="butt" stroke-dasharray="1.1 0.9"/></g>
<g transform="translate(934.70,367.60)" fill="none" stroke="#7e3ff2" stroke-linecap="round" stroke-linejoin="round"><circle cx="0" cy="0" r="6.1" stroke-width="1.15"/><path d="M-3.3 -2.3 L-1.1 -0.1 L2.6 -0.1" stroke-width="1.15"/><path d="M1.6 -2.4 L4.1 -0.1 L1.6 2.2 Z" stroke-width="0.5" fill="#7e3ff2"/><path d="M-3.9 3.2 L-1.5 0.8" stroke-width="1.2" stroke-linecap="butt" stroke-dasharray="1.1 0.9"/></g>
<line x1="7" y1="467.85" x2="975" y2="467.85" stroke="#9598a1" stroke-width="0.7" stroke-dasharray="3 3.9" stroke-opacity="0.6"/>
<g id="hist">
<rect x="6.70" y="465.55" width="5.4" height="2.30" fill="#26a69a"/>
<rect x="12.95" y="463.95" width="5.4" height="3.90" fill="#26a69a"/>
<rect x="19.20" y="462.15" width="5.4" height="5.70" fill="#26a69a"/>
<rect x="25.45" y="462.35" width="5.4" height="5.50" fill="#b2dfdb"/>
<rect x="31.70" y="465.15" width="5.4" height="2.70" fill="#b2dfdb"/>
<rect x="37.95" y="466.45" width="5.4" height="1.40" fill="#b2dfdb"/>
<rect x="44.20" y="467.05" width="5.4" height="0.80" fill="#b2dfdb"/>
<rect x="50.45" y="467.85" width="5.4" height="1.00" fill="#ff5252"/>
<rect x="56.70" y="467.85" width="5.4" height="1.80" fill="#ff5252"/>
<rect x="62.95" y="467.85" width="5.4" height="3.30" fill="#ff5252"/>
<rect x="69.20" y="467.85" width="5.4" height="5.10" fill="#ff5252"/>
<rect x="75.45" y="467.85" width="5.4" height="3.90" fill="#ffcdd2"/>
<rect x="81.70" y="467.85" width="5.4" height="2.70" fill="#ffcdd2"/>
<rect x="87.95" y="467.85" width="5.4" height="1.40" fill="#ffcdd2"/>
<rect x="94.20" y="467.85" width="5.4" height="0.60" fill="#ffcdd2"/>
<rect x="100.45" y="466.25" width="5.4" height="1.60" fill="#26a69a"/>
<rect x="106.70" y="466.65" width="5.4" height="1.20" fill="#b2dfdb"/>
<rect x="112.95" y="465.15" width="5.4" height="2.70" fill="#26a69a"/>
<rect x="119.20" y="464.35" width="5.4" height="3.50" fill="#26a69a"/>
<rect x="125.45" y="461.85" width="5.4" height="6.00" fill="#26a69a"/>
<rect x="131.70" y="461.05" width="5.4" height="6.80" fill="#26a69a"/>
<rect x="137.95" y="460.45" width="5.4" height="7.40" fill="#26a69a"/>
<rect x="144.20" y="459.85" width="5.4" height="8.00" fill="#26a69a"/>
<rect x="150.45" y="460.45" width="5.4" height="7.40" fill="#b2dfdb"/>
<rect x="156.70" y="460.05" width="5.4" height="7.80" fill="#26a69a"/>
<rect x="162.95" y="459.85" width="5.4" height="8.00" fill="#26a69a"/>
<rect x="169.20" y="461.05" width="5.4" height="6.80" fill="#b2dfdb"/>
<rect x="175.45" y="464.15" width="5.4" height="3.70" fill="#b2dfdb"/>
<rect x="181.70" y="467.05" width="5.4" height="0.80" fill="#b2dfdb"/>
<rect x="187.95" y="467.85" width="5.4" height="1.00" fill="#ff5252"/>
<rect x="194.20" y="467.85" width="5.4" height="1.00" fill="#ff5252"/>
<rect x="200.45" y="467.05" width="5.4" height="0.80" fill="#b2dfdb"/>
<rect x="206.70" y="467.85" width="5.4" height="1.00" fill="#ff5252"/>
<rect x="212.95" y="467.85" width="5.4" height="2.10" fill="#ff5252"/>
<rect x="219.20" y="467.85" width="5.4" height="3.30" fill="#ff5252"/>
<rect x="225.45" y="467.85" width="5.4" height="1.80" fill="#ffcdd2"/>
<rect x="231.70" y="466.85" width="5.4" height="1.00" fill="#26a69a"/>
<rect x="237.95" y="464.35" width="5.4" height="3.50" fill="#26a69a"/>
<rect x="244.20" y="462.95" width="5.4" height="4.90" fill="#26a69a"/>
<rect x="250.45" y="463.15" width="5.4" height="4.70" fill="#26a69a"/>
<rect x="256.70" y="461.75" width="5.4" height="6.10" fill="#26a69a"/>
<rect x="262.95" y="462.35" width="5.4" height="5.50" fill="#b2dfdb"/>
<rect x="269.20" y="463.15" width="5.4" height="4.70" fill="#b2dfdb"/>
<rect x="275.45" y="465.15" width="5.4" height="2.70" fill="#b2dfdb"/>
<rect x="281.70" y="464.15" width="5.4" height="3.70" fill="#26a69a"/>
<rect x="287.95" y="465.85" width="5.4" height="2.00" fill="#b2dfdb"/>
<rect x="294.20" y="464.35" width="5.4" height="3.50" fill="#26a69a"/>
<rect x="300.45" y="462.35" width="5.4" height="5.50" fill="#26a69a"/>
<rect x="306.70" y="461.75" width="5.4" height="6.10" fill="#26a69a"/>
<rect x="312.95" y="463.95" width="5.4" height="3.90" fill="#b2dfdb"/>
<rect x="319.20" y="465.15" width="5.4" height="2.70" fill="#b2dfdb"/>
<rect x="325.45" y="467.85" width="5.4" height="0.80" fill="#ff5252"/>
<rect x="331.70" y="467.85" width="5.4" height="0.80" fill="#ff5252"/>
<rect x="337.95" y="464.35" width="5.4" height="3.50" fill="#26a69a"/>
<rect x="344.20" y="462.35" width="5.4" height="5.50" fill="#26a69a"/>
<rect x="350.45" y="461.05" width="5.4" height="6.80" fill="#26a69a"/>
<rect x="356.70" y="454.75" width="5.4" height="13.10" fill="#26a69a"/>
<rect x="362.95" y="449.65" width="5.4" height="18.20" fill="#26a69a"/>
<rect x="369.20" y="448.15" width="5.4" height="19.70" fill="#26a69a"/>
<rect x="375.45" y="449.45" width="5.4" height="18.40" fill="#b2dfdb"/>
<rect x="381.70" y="449.45" width="5.4" height="18.40" fill="#26a69a"/>
<rect x="387.95" y="450.85" width="5.4" height="17.00" fill="#b2dfdb"/>
<rect x="394.20" y="452.05" width="5.4" height="15.80" fill="#b2dfdb"/>
<rect x="400.45" y="453.35" width="5.4" height="14.50" fill="#b2dfdb"/>
<rect x="406.70" y="452.85" width="5.4" height="15.00" fill="#26a69a"/>
<rect x="412.95" y="453.35" width="5.4" height="14.50" fill="#b2dfdb"/>
<rect x="419.20" y="458.05" width="5.4" height="9.80" fill="#b2dfdb"/>
<rect x="425.45" y="463.95" width="5.4" height="3.90" fill="#b2dfdb"/>
<rect x="431.70" y="464.35" width="5.4" height="3.50" fill="#b2dfdb"/>
<rect x="437.95" y="465.75" width="5.4" height="2.10" fill="#b2dfdb"/>
<rect x="444.20" y="467.85" width="5.4" height="0.60" fill="#ffcdd2"/>
<rect x="450.45" y="467.85" width="5.4" height="2.90" fill="#ff5252"/>
<rect x="456.70" y="467.85" width="5.4" height="1.80" fill="#ffcdd2"/>
<rect x="462.95" y="467.85" width="5.4" height="2.90" fill="#ff5252"/>
<rect x="469.20" y="467.85" width="5.4" height="2.00" fill="#ffcdd2"/>
<rect x="475.45" y="467.85" width="5.4" height="5.30" fill="#ff5252"/>
<rect x="481.70" y="467.85" width="5.4" height="8.00" fill="#ff5252"/>
<rect x="487.95" y="467.85" width="5.4" height="5.90" fill="#ffcdd2"/>
<rect x="494.20" y="467.85" width="5.4" height="6.80" fill="#ff5252"/>
<rect x="500.45" y="467.85" width="5.4" height="5.90" fill="#ffcdd2"/>
<rect x="506.70" y="467.85" width="5.4" height="2.70" fill="#ffcdd2"/>
<rect x="512.95" y="467.85" width="5.4" height="0.60" fill="#ffcdd2"/>
<rect x="519.20" y="467.85" width="5.4" height="4.70" fill="#ff5252"/>
<rect x="525.45" y="467.85" width="5.4" height="9.20" fill="#ff5252"/>
<rect x="531.70" y="467.85" width="5.4" height="12.30" fill="#ff5252"/>
<rect x="537.95" y="467.85" width="5.4" height="16.00" fill="#ff5252"/>
<rect x="544.20" y="467.85" width="5.4" height="14.00" fill="#ffcdd2"/>
<rect x="550.45" y="467.85" width="5.4" height="14.00" fill="#ff5252"/>
<rect x="556.70" y="467.85" width="5.4" height="14.60" fill="#ff5252"/>
<rect x="562.95" y="467.85" width="5.4" height="15.60" fill="#ff5252"/>
<rect x="569.20" y="467.85" width="5.4" height="15.70" fill="#ff5252"/>
<rect x="575.45" y="467.85" width="5.4" height="12.20" fill="#ffcdd2"/>
<rect x="581.70" y="467.85" width="5.4" height="9.70" fill="#ffcdd2"/>
<rect x="587.95" y="467.85" width="5.4" height="5.00" fill="#ffcdd2"/>
<rect x="594.20" y="467.85" width="5.4" height="6.00" fill="#ff5252"/>
<rect x="600.45" y="467.85" width="5.4" height="8.70" fill="#ff5252"/>
<rect x="606.70" y="467.85" width="5.4" height="10.70" fill="#ff5252"/>
<rect x="612.95" y="467.85" width="5.4" height="9.70" fill="#ffcdd2"/>
<rect x="619.20" y="467.85" width="5.4" height="9.70" fill="#ffcdd2"/>
<rect x="625.45" y="467.85" width="5.4" height="7.00" fill="#ffcdd2"/>
<rect x="631.70" y="467.85" width="5.4" height="3.00" fill="#ffcdd2"/>
<rect x="637.95" y="467.85" width="5.4" height="0.70" fill="#ffcdd2"/>
<rect x="644.20" y="463.85" width="5.4" height="4.00" fill="#26a69a"/>
<rect x="650.45" y="460.55" width="5.4" height="7.30" fill="#26a69a"/>
<rect x="656.70" y="459.95" width="5.4" height="7.90" fill="#26a69a"/>
<rect x="662.95" y="461.35" width="5.4" height="6.50" fill="#b2dfdb"/>
<rect x="669.20" y="461.35" width="5.4" height="6.50" fill="#b2dfdb"/>
<rect x="675.45" y="463.85" width="5.4" height="4.00" fill="#b2dfdb"/>
<rect x="681.70" y="466.45" width="5.4" height="1.40" fill="#b2dfdb"/>
<rect x="687.95" y="465.25" width="5.4" height="2.60" fill="#26a69a"/>
<rect x="694.20" y="464.25" width="5.4" height="3.60" fill="#26a69a"/>
<rect x="700.45" y="467.15" width="5.4" height="0.70" fill="#b2dfdb"/>
<rect x="706.70" y="467.85" width="5.4" height="1.50" fill="#ff5252"/>
<rect x="712.95" y="467.85" width="5.4" height="4.00" fill="#ff5252"/>
<rect x="719.20" y="467.85" width="5.4" height="6.80" fill="#ff5252"/>
<rect x="725.45" y="467.85" width="5.4" height="8.70" fill="#ff5252"/>
<rect x="731.70" y="467.85" width="5.4" height="9.90" fill="#ff5252"/>
<rect x="737.95" y="467.85" width="5.4" height="9.80" fill="#ffcdd2"/>
<rect x="744.20" y="467.85" width="5.4" height="10.60" fill="#ff5252"/>
<rect x="750.45" y="467.85" width="5.4" height="9.00" fill="#ffcdd2"/>
<rect x="756.70" y="467.85" width="5.4" height="8.50" fill="#ffcdd2"/>
<rect x="762.95" y="467.85" width="5.4" height="6.90" fill="#ffcdd2"/>
<rect x="769.20" y="467.85" width="5.4" height="8.40" fill="#ff5252"/>
<rect x="775.45" y="467.85" width="5.4" height="6.40" fill="#ffcdd2"/>
<rect x="781.70" y="467.85" width="5.4" height="2.50" fill="#ffcdd2"/>
<rect x="787.95" y="467.85" width="5.4" height="4.50" fill="#ff5252"/>
<rect x="794.20" y="467.85" width="5.4" height="5.50" fill="#ff5252"/>
<rect x="800.45" y="467.85" width="5.4" height="9.00" fill="#ff5252"/>
<rect x="806.70" y="467.85" width="5.4" height="13.30" fill="#ff5252"/>
<rect x="812.95" y="467.85" width="5.4" height="15.00" fill="#ff5252"/>
<rect x="819.20" y="467.85" width="5.4" height="15.00" fill="#ffcdd2"/>
<rect x="825.45" y="467.85" width="5.4" height="8.60" fill="#ffcdd2"/>
</g>
<polyline points="6.8,478.2 15.6,476.1 27.3,473.7 39.1,472.7 50.8,472.9 58.6,473.9 65.4,475.1 71.7,476.1 78.1,476.8 89.8,477.6 96.7,477.8 103.1,477.4 109.4,477.2 115.6,476.6 121.9,475.5 128.1,473.9 134.4,472.3 140.6,470.4 146.9,468.2 153.1,466.3 159.4,464.3 165.6,462.6 171.9,461.0 178.1,460.2 184.4,460.0 190.6,460.1 196.8,460.1 203.1,460.1 209.3,460.3 215.6,460.9 221.8,461.6 228.1,462.0 234.3,461.6 240.6,460.5 246.8,459.3 253.1,458.1 259.3,456.6 265.6,455.2 271.8,454.4 278.1,453.6 284.3,453.0 290.6,452.7 296.8,451.7 303.1,450.3 309.3,448.9 315.6,448.2 321.8,447.8 328.1,447.8 334.3,448.0 340.6,447.4 346.8,446.0 353.1,444.5 359.3,440.5 365.6,436.2 371.8,431.6 378.1,427.5 384.3,423.0 390.5,418.1 396.8,414.0 403.0,410.3 409.3,407.0 415.5,403.8 421.8,401.7 428.0,400.7 434.3,399.7 440.5,399.1 446.8,399.1 453.0,399.7 459.3,400.3 465.5,400.9 471.8,401.3 478.0,403.0 484.3,404.8 490.5,406.4 496.8,407.9 503.0,409.3 509.3,409.9 515.5,410.3 521.8,411.2 528.0,413.6 534.3,417.1 540.5,421.0 546.8,424.5 553.0,428.0 559.3,431.8 565.5,435.3 572.0,439.1 578.2,442.0 584.5,444.3 590.7,445.7 597.0,447.3 603.2,449.2 609.5,451.6 615.7,453.9 622.0,456.2 628.2,458.0 634.5,459.0 640.7,459.2 647.0,458.2 653.2,456.6 659.5,454.9 665.7,453.1 672.0,451.4 678.2,450.4 684.5,449.8 690.7,449.2 697.0,448.4 703.2,448.2 709.5,448.6 715.7,449.6 722.0,451.4 728.2,453.7 734.5,456.2 740.6,458.3 746.8,460.6 753.1,463.4 759.3,465.3 765.6,467.3 771.8,468.8 778.1,470.2 784.3,471.2 790.6,472.1 796.8,473.5 803.1,475.7 809.3,479.0 815.6,482.5 821.8,485.8 827.7,488.4" fill="none" stroke="#ff6d00" stroke-width="0.85" stroke-linejoin="round" stroke-opacity="0.85"/>
<polyline points="6.8,476.6 15.6,472.3 27.3,468.8 39.1,471.2 50.8,473.7 58.6,475.3 65.4,478.2 71.7,480.7 78.1,480.5 89.8,479.2 96.7,478.0 103.1,476.2 109.4,475.7 115.6,474.1 121.9,472.0 128.1,467.9 134.4,465.3 140.6,463.2 146.9,461.0 153.1,459.1 159.4,456.7 165.6,454.6 171.9,455.2 178.1,456.9 184.4,459.5 190.6,460.5 196.8,460.3 203.1,460.1 209.3,460.7 215.6,462.8 221.8,464.6 228.1,463.6 234.3,460.1 240.6,457.1 246.8,454.8 253.1,453.4 259.3,451.5 265.6,450.7 271.8,450.5 278.1,451.3 284.3,450.3 290.6,450.9 296.8,449.1 303.1,445.8 309.3,443.7 315.6,444.1 321.8,445.6 328.1,448.0 334.3,448.9 340.6,444.5 346.8,440.5 353.1,437.8 359.3,427.5 365.6,418.5 371.8,412.2 378.1,409.7 384.3,405.0 390.5,401.5 396.8,399.1 403.0,396.8 409.3,392.9 415.5,389.6 421.8,392.1 428.0,396.6 434.3,396.8 440.5,397.2 446.8,399.7 453.0,402.3 459.3,402.7 465.5,403.4 471.8,403.2 478.0,407.9 484.3,412.2 490.5,412.2 496.8,414.2 503.0,414.6 509.3,412.6 515.5,410.9 521.8,416.1 528.0,423.4 534.3,429.8 540.5,436.6 546.8,437.8 553.0,442.1 559.3,446.4 565.5,450.3 572.0,454.1 578.2,454.5 584.5,454.1 590.7,450.6 597.0,453.7 603.2,457.8 609.5,462.1 615.7,464.5 622.0,466.4 628.2,465.4 634.5,462.5 640.7,459.6 647.0,454.3 653.2,449.4 659.5,447.1 665.7,446.1 672.0,444.7 678.2,446.5 684.5,448.2 690.7,446.9 697.0,445.5 703.2,447.9 709.5,450.0 715.7,454.1 722.0,458.2 728.2,462.5 734.5,466.4 740.6,467.7 746.8,470.8 753.1,472.3 759.3,473.5 765.6,473.7 771.8,476.2 778.1,476.4 784.3,475.1 790.6,476.6 796.8,478.6 803.1,484.5 809.3,491.9 815.6,497.5 821.8,500.9 827.7,496.8" fill="none" stroke="#2962ff" stroke-width="0.85" stroke-linejoin="round" stroke-opacity="0.85"/>
<text x="981.15" y="54.95" font-size="8" text-anchor="start" fill="#131722" font-weight="normal" stroke="#131722" stroke-width="0.14" textLength="27.20" lengthAdjust="spacingAndGlyphs">120,000</text>
<text x="981.15" y="77.47" font-size="8" text-anchor="start" fill="#131722" font-weight="normal" stroke="#131722" stroke-width="0.14" textLength="27.20" lengthAdjust="spacingAndGlyphs">115,000</text>
<text x="981.15" y="99.99" font-size="8" text-anchor="start" fill="#131722" font-weight="normal" stroke="#131722" stroke-width="0.14" textLength="27.20" lengthAdjust="spacingAndGlyphs">110,000</text>
<text x="981.15" y="122.51" font-size="8" text-anchor="start" fill="#131722" font-weight="normal" stroke="#131722" stroke-width="0.14" textLength="27.20" lengthAdjust="spacingAndGlyphs">105,000</text>
<text x="981.15" y="145.03" font-size="8" text-anchor="start" fill="#131722" font-weight="normal" stroke="#131722" stroke-width="0.14" textLength="27.20" lengthAdjust="spacingAndGlyphs">100,000</text>
<text x="981.15" y="167.55" font-size="8" text-anchor="start" fill="#131722" font-weight="normal" stroke="#131722" stroke-width="0.14" textLength="23.20" lengthAdjust="spacingAndGlyphs">95,000</text>
<text x="981.15" y="190.07" font-size="8" text-anchor="start" fill="#131722" font-weight="normal" stroke="#131722" stroke-width="0.14" textLength="23.20" lengthAdjust="spacingAndGlyphs">90,000</text>
<text x="981.15" y="212.59" font-size="8" text-anchor="start" fill="#131722" font-weight="normal" stroke="#131722" stroke-width="0.14" textLength="23.20" lengthAdjust="spacingAndGlyphs">85,000</text>
<text x="981.15" y="235.11" font-size="8" text-anchor="start" fill="#131722" font-weight="normal" stroke="#131722" stroke-width="0.14" textLength="23.20" lengthAdjust="spacingAndGlyphs">80,000</text>
<text x="981.15" y="257.63" font-size="8" text-anchor="start" fill="#131722" font-weight="normal" stroke="#131722" stroke-width="0.14" textLength="23.20" lengthAdjust="spacingAndGlyphs">75,000</text>
<text x="981.15" y="280.15" font-size="8" text-anchor="start" fill="#131722" font-weight="normal" stroke="#131722" stroke-width="0.14" textLength="23.20" lengthAdjust="spacingAndGlyphs">70,000</text>
<text x="981.15" y="302.67" font-size="8" text-anchor="start" fill="#131722" font-weight="normal" stroke="#131722" stroke-width="0.14" textLength="23.20" lengthAdjust="spacingAndGlyphs">65,000</text>
<text x="981.15" y="325.19" font-size="8" text-anchor="start" fill="#131722" font-weight="normal" stroke="#131722" stroke-width="0.14" textLength="23.20" lengthAdjust="spacingAndGlyphs">60,000</text>
<text x="981.15" y="347.71" font-size="8" text-anchor="start" fill="#131722" font-weight="normal" stroke="#131722" stroke-width="0.14" textLength="23.20" lengthAdjust="spacingAndGlyphs">55,000</text>
<text x="981.15" y="370.23" font-size="8" text-anchor="start" fill="#131722" font-weight="normal" stroke="#131722" stroke-width="0.14" textLength="23.20" lengthAdjust="spacingAndGlyphs">50,000</text>
<text x="980.75" y="392" font-size="8" text-anchor="start" fill="#131722" font-weight="normal" stroke="#131722" stroke-width="0.14" textLength="19.70" lengthAdjust="spacingAndGlyphs">8,000</text>
<text x="980.75" y="411" font-size="8" text-anchor="start" fill="#131722" font-weight="normal" stroke="#131722" stroke-width="0.14" textLength="19.70" lengthAdjust="spacingAndGlyphs">6,000</text>
<text x="980.75" y="431" font-size="8" text-anchor="start" fill="#131722" font-weight="normal" stroke="#131722" stroke-width="0.14" textLength="19.70" lengthAdjust="spacingAndGlyphs">4,000</text>
<text x="980.75" y="450" font-size="8" text-anchor="start" fill="#131722" font-weight="normal" stroke="#131722" stroke-width="0.14" textLength="19.70" lengthAdjust="spacingAndGlyphs">2,000</text>
<text x="980.75" y="470" font-size="8" text-anchor="start" fill="#131722" font-weight="normal" stroke="#131722" stroke-width="0.14" textLength="4.80" lengthAdjust="spacingAndGlyphs">0</text>
<text x="980.75" y="508" font-size="8" text-anchor="start" fill="#131722" font-weight="normal" stroke="#131722" stroke-width="0.14" textLength="23.40" lengthAdjust="spacingAndGlyphs">−4,000</text>
<text x="983.35" y="31" font-size="8" text-anchor="start" fill="#131722" font-weight="normal" stroke="#131722" stroke-width="0.14" textLength="13.90" lengthAdjust="spacingAndGlyphs">USD</text>
<rect x="975.9" y="168" width="38.2" height="19.9" fill="#f7525f"/>
<text x="980.75" y="175" font-size="8" text-anchor="start" fill="#ffffff" font-weight="bold" textLength="23.30" lengthAdjust="spacingAndGlyphs">93,195</text>
<text x="981.25" y="185" font-size="8" text-anchor="start" fill="#ffffff" font-weight="normal" textLength="30.10" lengthAdjust="spacingAndGlyphs" fill-opacity="0.9">15:28:09</text>
<rect x="975.9" y="471" width="25" height="10.5" fill="#ffcdd2"/>
<text x="980.65" y="479" font-size="8" text-anchor="start" fill="#131722" font-weight="normal" stroke="#131722" stroke-width="0.14" textLength="16.70" lengthAdjust="spacingAndGlyphs">−867</text>
<rect x="975.9" y="482.8" width="31.2" height="11" fill="#ff6d00"/>
<text x="980.65" y="491" font-size="8" text-anchor="start" fill="#ffffff" font-weight="bold" textLength="23.70" lengthAdjust="spacingAndGlyphs">−2,140</text>
<rect x="975.9" y="493.8" width="31.2" height="11" fill="#2962ff"/>
<text x="980.65" y="502" font-size="8" text-anchor="start" fill="#ffffff" font-weight="bold" textLength="23.70" lengthAdjust="spacingAndGlyphs">−3,008</text>
<text x="46.50" y="524" font-size="8" text-anchor="start" fill="#131722" font-weight="normal" stroke="#131722" stroke-width="0.14" textLength="12.50" lengthAdjust="spacingAndGlyphs">Sep</text>
<text x="171.50" y="524" font-size="8" text-anchor="start" fill="#131722" font-weight="normal" stroke="#131722" stroke-width="0.14" textLength="12.50" lengthAdjust="spacingAndGlyphs">Oct</text>
<text x="314.75" y="524" font-size="8" text-anchor="start" fill="#131722" font-weight="normal" stroke="#131722" stroke-width="0.14" textLength="13.50" lengthAdjust="spacingAndGlyphs">Nov</text>
<text x="439.55" y="524" font-size="8" text-anchor="start" fill="#131722" font-weight="normal" stroke="#131722" stroke-width="0.14" textLength="13.90" lengthAdjust="spacingAndGlyphs">Dec</text>
<text x="568.70" y="524" font-size="8" text-anchor="start" fill="#131722" font-weight="bold" textLength="18.10" lengthAdjust="spacingAndGlyphs">2025</text>
<text x="702.55" y="524" font-size="8" text-anchor="start" fill="#131722" font-weight="normal" stroke="#131722" stroke-width="0.14" textLength="12.90" lengthAdjust="spacingAndGlyphs">Feb</text>
<text x="821.00" y="524" font-size="8" text-anchor="start" fill="#131722" font-weight="normal" stroke="#131722" stroke-width="0.14" textLength="13.50" lengthAdjust="spacingAndGlyphs">Mar</text>
<text x="952.65" y="524" font-size="8" text-anchor="start" fill="#131722" font-weight="normal" stroke="#131722" stroke-width="0.14" textLength="12.70" lengthAdjust="spacingAndGlyphs">Apr</text>
<text y="12" font-size="8" font-weight="normal" stroke-width="0.14"><tspan x="6.25" textLength="32.80" lengthAdjust="spacingAndGlyphs" fill="#131722" stroke="#131722">RezaFFDP</tspan> <tspan x="42.15" textLength="32.80" lengthAdjust="spacingAndGlyphs" fill="#131722" stroke="#131722">published</tspan> <tspan x="77.35" textLength="7.40" lengthAdjust="spacingAndGlyphs" fill="#131722" stroke="#131722">on</tspan> <tspan x="88.45" textLength="60.10" lengthAdjust="spacingAndGlyphs" fill="#131722" stroke="#131722">TradingView.com,</tspan> <tspan x="150.85" textLength="12.10" lengthAdjust="spacingAndGlyphs" fill="#131722" stroke="#131722">Mar</tspan> <tspan x="166.15" textLength="10.00" lengthAdjust="spacingAndGlyphs" fill="#131722" stroke="#131722">03,</tspan> <tspan x="179.35" textLength="16.10" lengthAdjust="spacingAndGlyphs" fill="#131722" stroke="#131722">2025</tspan> <tspan x="198.25" textLength="17.40" lengthAdjust="spacingAndGlyphs" fill="#131722" stroke="#131722">10:11</tspan> <tspan x="219.05" textLength="33.00" lengthAdjust="spacingAndGlyphs" fill="#131722" stroke="#131722">UTC+3:30</tspan></text>
<text y="29" font-size="8" font-weight="normal" stroke-width="0.14"><tspan x="11.30" textLength="23.85" lengthAdjust="spacingAndGlyphs" fill="#131722" stroke="#131722">Bitcoin</tspan> <tspan x="37.65" textLength="14.30" lengthAdjust="spacingAndGlyphs" fill="#131722" stroke="#131722">CME</tspan> <tspan x="54.35" textLength="25.70" lengthAdjust="spacingAndGlyphs" fill="#131722" stroke="#131722">Futures</tspan> <tspan x="82.25" textLength="2.10" lengthAdjust="spacingAndGlyphs" fill="#131722" stroke="#131722">·</tspan> <tspan x="87.85" textLength="8.30" lengthAdjust="spacingAndGlyphs" fill="#131722" stroke="#131722">1D</tspan> <tspan x="98.95" textLength="2.10" lengthAdjust="spacingAndGlyphs" fill="#131722" stroke="#131722">·</tspan> <tspan x="103.45" textLength="14.20" lengthAdjust="spacingAndGlyphs" fill="#131722" stroke="#131722">CME</tspan> <tspan x="122.65" textLength="5.60" lengthAdjust="spacingAndGlyphs" fill="#131722" stroke="#131722">O</tspan> <tspan x="128.25" textLength="23.00" lengthAdjust="spacingAndGlyphs" fill="#f7525f" stroke="#f7525f">95,000</tspan> <tspan x="155.55" textLength="5.40" lengthAdjust="spacingAndGlyphs" fill="#131722" stroke="#131722">H</tspan> <tspan x="160.65" textLength="22.60" lengthAdjust="spacingAndGlyphs" fill="#f7525f" stroke="#f7525f">95,705</tspan> <tspan x="188.35" textLength="3.90" lengthAdjust="spacingAndGlyphs" fill="#131722" stroke="#131722">L</tspan> <tspan x="192.05" textLength="23.20" lengthAdjust="spacingAndGlyphs" fill="#f7525f" stroke="#f7525f">92,875</tspan> <tspan x="219.95" textLength="5.00" lengthAdjust="spacingAndGlyphs" fill="#131722" stroke="#131722">C</tspan> <tspan x="224.65" textLength="23.10" lengthAdjust="spacingAndGlyphs" fill="#f7525f" stroke="#f7525f">93,195</tspan> <tspan x="252.15" textLength="23.00" lengthAdjust="spacingAndGlyphs" fill="#f7525f" stroke="#f7525f">+8,545</tspan> <tspan x="277.85" textLength="32.60" lengthAdjust="spacingAndGlyphs" fill="#f7525f" stroke="#f7525f">(+10.09%)</tspan></text>
<text y="389" font-size="8" font-weight="normal" stroke-width="0.14"><tspan x="11.05" textLength="19.50" lengthAdjust="spacingAndGlyphs" fill="#131722" stroke="#131722">MACD</tspan> <tspan x="33.35" textLength="13.00" lengthAdjust="spacingAndGlyphs" fill="#131722" stroke="#131722">(12,</tspan> <tspan x="49.75" textLength="10.40" lengthAdjust="spacingAndGlyphs" fill="#131722" stroke="#131722">26,</tspan> <tspan x="62.95" textLength="20.00" lengthAdjust="spacingAndGlyphs" fill="#131722" stroke="#131722">close)</tspan> <tspan x="87.55" textLength="16.20" lengthAdjust="spacingAndGlyphs" fill="#ffcdd2" stroke="#ffcdd2">−867</tspan> <tspan x="108.65" textLength="22.70" lengthAdjust="spacingAndGlyphs" fill="#2962ff" stroke="#2962ff">−3,008</tspan> <tspan x="136.25" textLength="23.20" lengthAdjust="spacingAndGlyphs" fill="#ff6d00" stroke="#ff6d00">−2,140</tspan></text>
<g transform="translate(6.3,536.9) scale(0.346)" fill="#131722"><path d="M14 22H7V11H0V4h14v18zM28 22h-8l7.5-18h8L28 22z"/><circle cx="20" cy="8" r="4"/></g>
<text x="21.55" y="544.5" font-size="8.3" text-anchor="start" fill="#131722" font-weight="normal" stroke="#131722" stroke-width="0.2" textLength="45.10" lengthAdjust="spacingAndGlyphs">TradingView</text>
</svg></body></html>
